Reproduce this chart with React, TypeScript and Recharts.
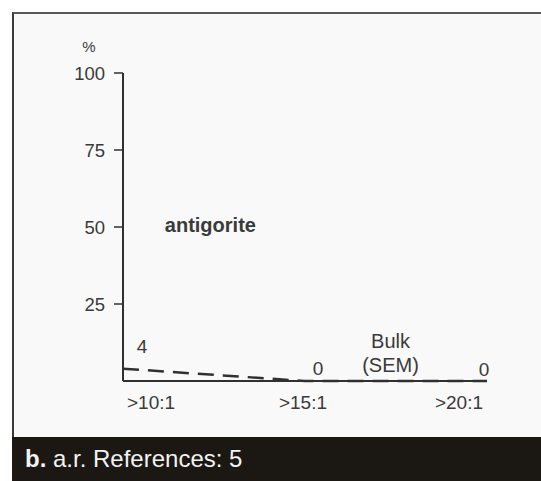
import React from 'react';
import { LineChart, Line, XAxis, YAxis, LabelList, ReferenceDot } from 'recharts';

// aspect ratio thresholds (x) and share of antigorite (%)
const ratioValues = [10, 15, 20];
const ratioLabels = ['>10:1', '>15:1', '>20:1'];
const antigoriteShare = [4, 0, 0];
const yTicks = [25, 50, 75, 100];

const INK = '#303030';
const TEXT = '#3a3a3a';
const FONT = '"Liberation Sans", Arial, Helvetica, sans-serif';

const chartData = ratioValues.map((x, i) => ({ x, label: ratioLabels[i], share: antigoriteShare[i] }));

function RatioTick({ x = 0, y = 0, index = 0 }: any) {
  const last = ratioLabels.length - 1;
  const anchor = index === 0 ? 'start' : index === last ? 'end' : 'middle';
  const dx = index === 0 ? 4 : index === last ? -4 : -2;
  return (
    <text x={x + dx} y={y + 20} textAnchor={anchor} fill={TEXT} fontSize={19} fontFamily={FONT}>
      {ratioLabels[index]}
    </text>
  );
}

// per-point nudges so the numbers sit like the original
const labelOffsets = [
  { dx: 19, dy: -16 },
  { dx: 13, dy: -6 },
  { dx: -3, dy: -5 },
];

function ValueLabel({ x = 0, y = 0, value, index = 0 }: any) {
  const o = labelOffsets[index] ?? { dx: 0, dy: -6 };
  return (
    <text x={x + o.dx} y={y + o.dy} textAnchor="middle" fill={TEXT} fontSize={19} fontFamily={FONT}>
      {value}
    </text>
  );
}

function PercentLabel({ viewBox }: any) {
  const vb = viewBox ?? { x: 0, y: 0, width: 0 };
  return (
    <text x={vb.x + vb.width - 34} y={vb.y - 21} textAnchor="middle" fill={TEXT} fontSize={15} fontFamily={FONT}>
      %
    </text>
  );
}

function centerOf(viewBox: any) {
  return { cx: viewBox.x + viewBox.width / 2, cy: viewBox.y + viewBox.height / 2 };
}

function AntigoriteLabel({ viewBox }: any) {
  const { cx, cy } = centerOf(viewBox);
  return (
    <text x={cx} y={cy + 7} textAnchor="middle" fill={TEXT} fontSize={20} fontWeight="bold" fontFamily={FONT}>
      antigorite
    </text>
  );
}

function BulkLabel({ viewBox }: any) {
  const { cx, cy } = centerOf(viewBox);
  return (
    <text textAnchor="middle" fill={TEXT} fontSize={20} fontFamily={FONT}>
      <tspan x={cx} y={cy - 5}>Bulk</tspan>
      <tspan x={cx} y={cy + 19}>(SEM)</tspan>
    </text>
  );
}

export default function App() {
  return (
    <div style={{ position: 'relative', width: 541, height: 481, background: '#fff', overflow: 'hidden', fontFamily: FONT }}>
      <style>{'body{margin:0}'}</style>
      <div
        style={{
          position: 'absolute',
          left: 12,
          top: 12,
          width: 560,
          height: 430,
          background: '#f8f9f8',
          borderLeft: '2.5px solid #3a3a3a',
          borderTop: '2px solid #5a5a5a',
        }}
      />
      <div style={{ position: 'absolute', left: 0, top: 0 }}>
        <LineChart width={541} height={437} data={chartData} margin={{ top: 73, right: 54, left: 0, bottom: 0 }}>
          <XAxis
            type="number"
            dataKey="x"
            domain={[10, 20]}
            ticks={ratioValues}
            tick={<RatioTick />}
            tickLine={false}
            axisLine={{ stroke: INK, strokeWidth: 2 }}
            height={56}
          />
          <YAxis
            domain={[0, 100]}
            ticks={yTicks}
            width={123}
            tickSize={9}
            tickMargin={9}
            axisLine={{ stroke: INK, strokeWidth: 2 }}
            tickLine={{ stroke: INK, strokeWidth: 1.5 }}
            tick={{ fill: TEXT, fontSize: 18.5, fontFamily: FONT }}
            label={<PercentLabel />}
          />
          <ReferenceDot x={12.4} y={50.6} r={1} fill="none" stroke="none" label={<AntigoriteLabel />} />
          <ReferenceDot x={17.35} y={9.1} r={1} fill="none" stroke="none" label={<BulkLabel />} />
          <Line
            dataKey="share"
            type="linear"
            stroke={INK}
            strokeWidth={2.5}
            strokeDasharray="16 9"
            dot={false}
            isAnimationActive={false}
          >
            <LabelList dataKey="share" content={<ValueLabel />} />
          </Line>
        </LineChart>
      </div>
      <div
        style={{
          position: 'absolute',
          left: 12,
          top: 437,
          width: 540,
          height: 44,
          background: '#1b1814',
          color: '#f2f2f2',
          fontSize: 24,
          lineHeight: '44px',
          paddingLeft: 13,
          boxSizing: 'border-box',
        }}
      >
        <b>b.</b> a.r. References: 5
      </div>
    </div>
  );
}
